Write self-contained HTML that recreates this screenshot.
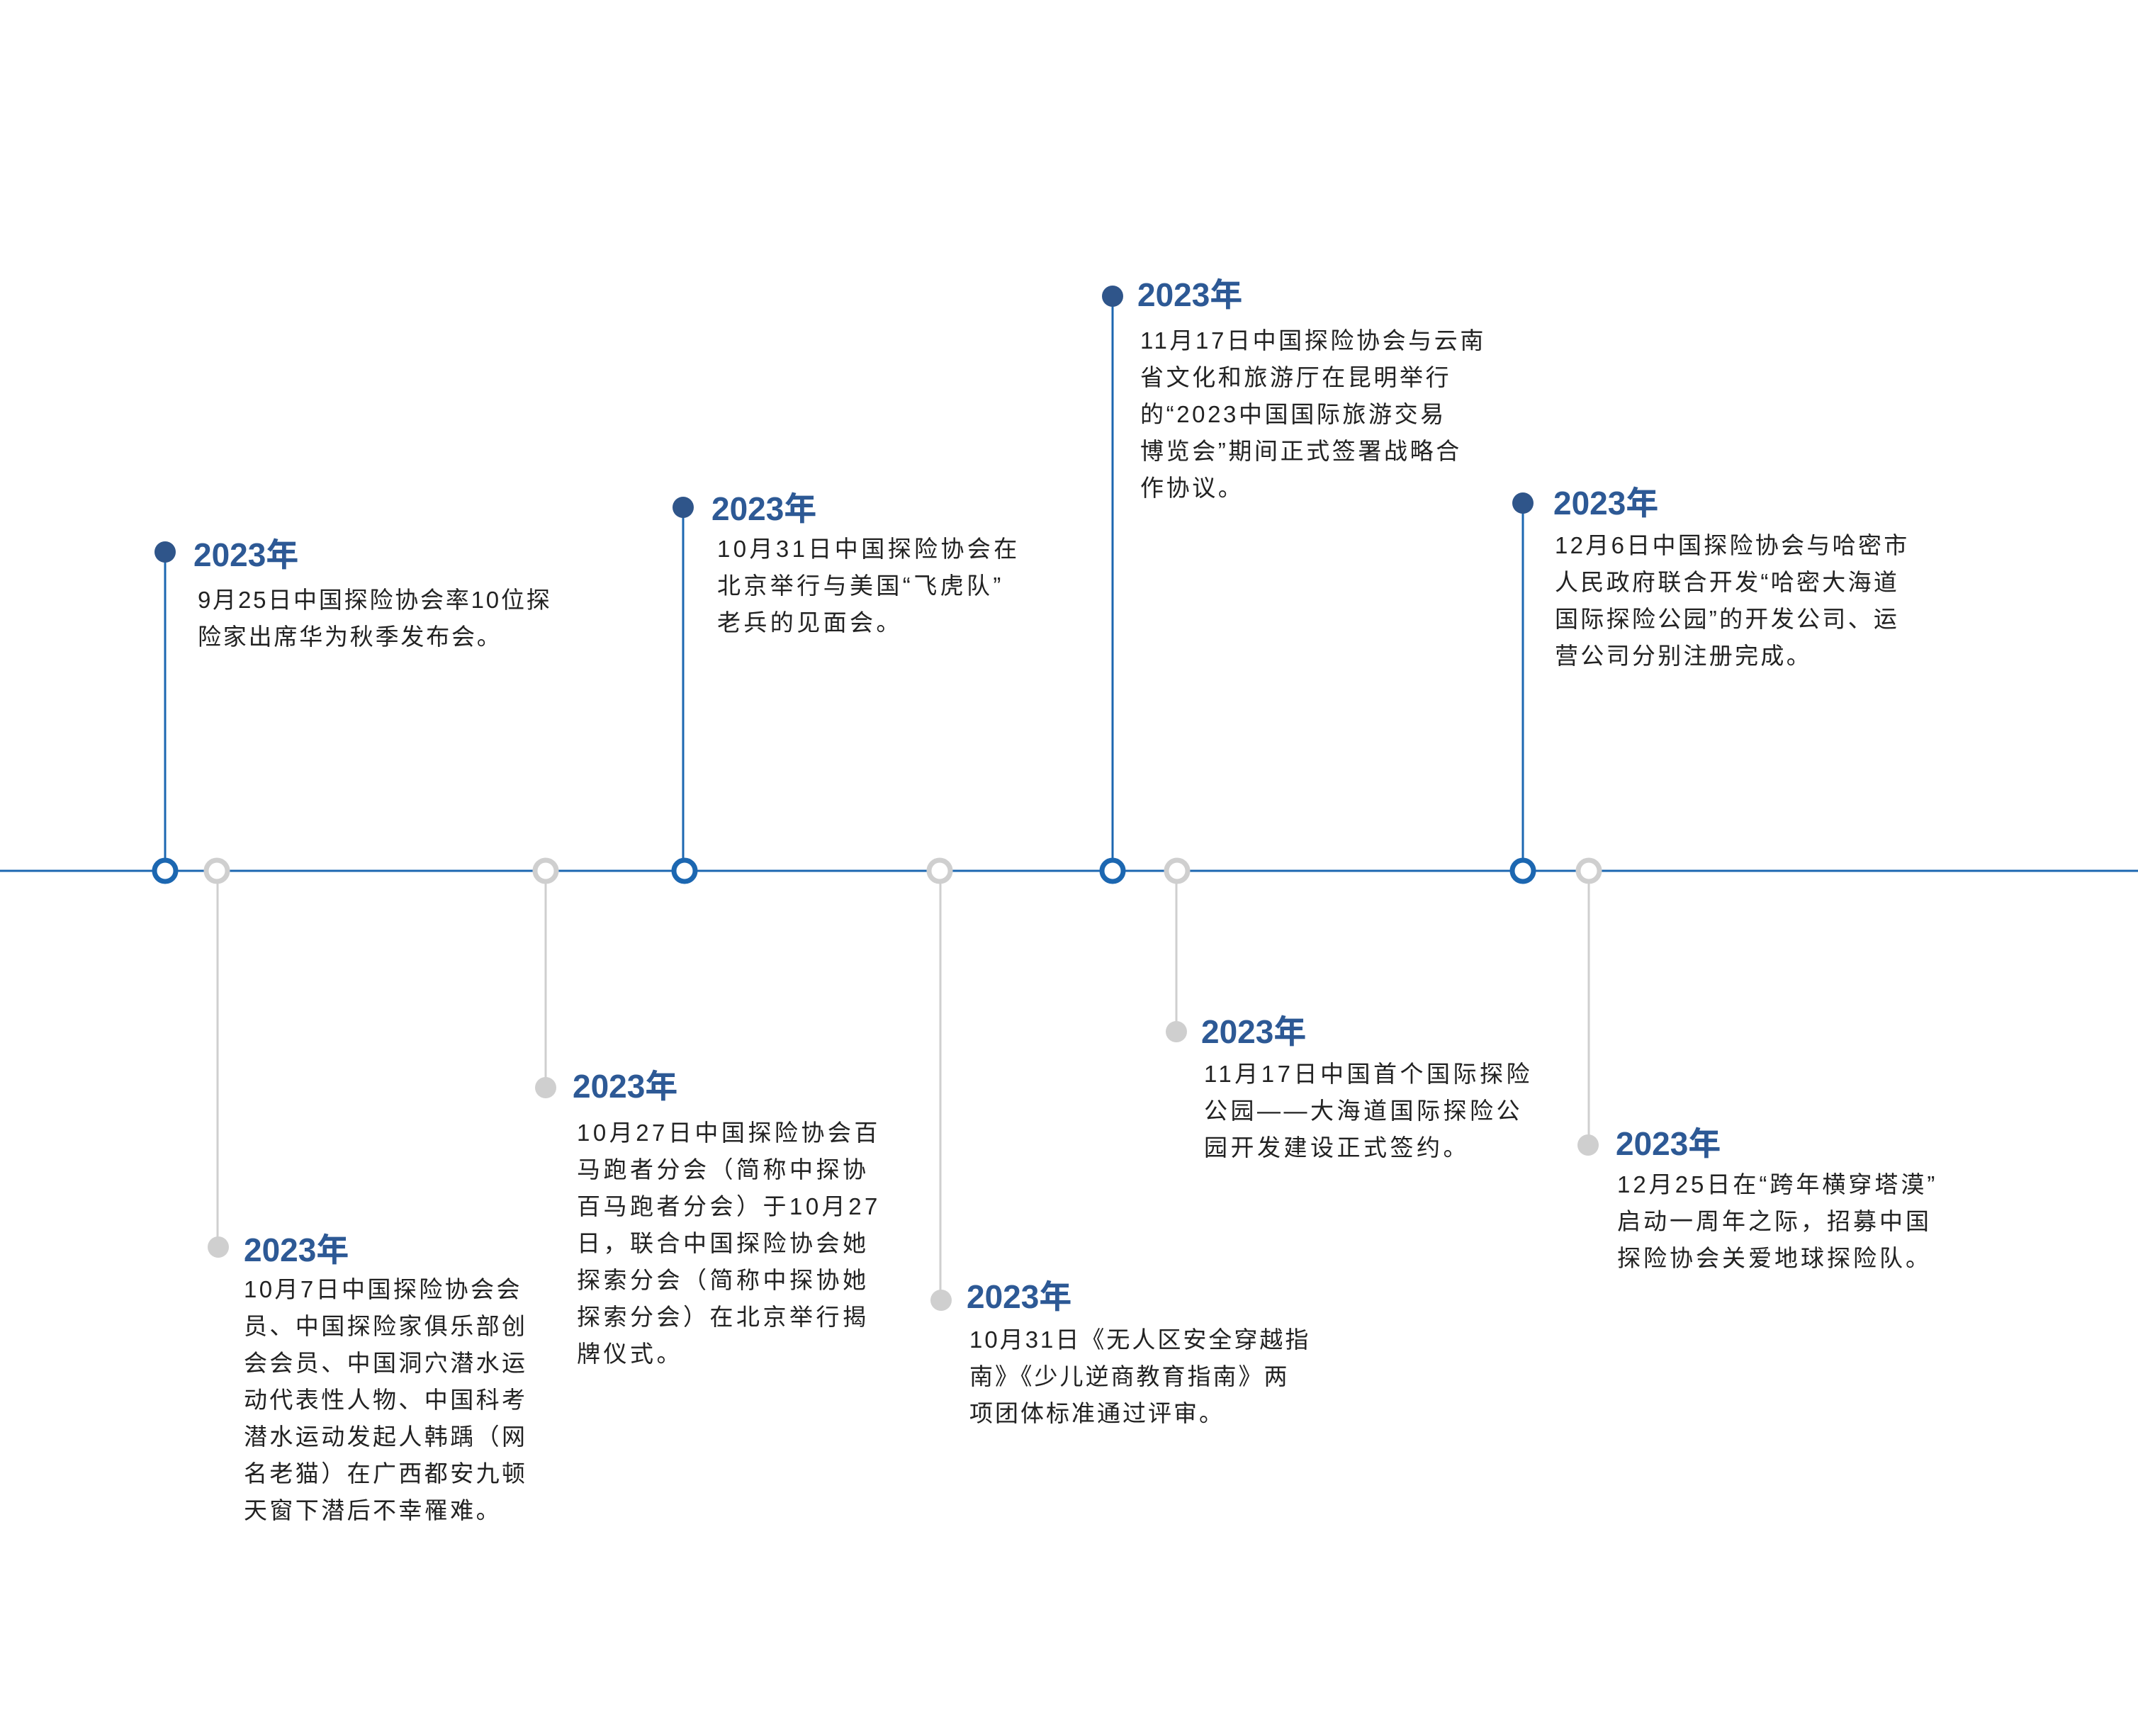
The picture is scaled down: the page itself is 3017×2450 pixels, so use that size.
<!DOCTYPE html>
<html><head><meta charset="utf-8"><style>
html,body{margin:0;padding:0;background:#fff}
#c{position:relative;width:3017px;height:2450px;overflow:hidden;background:#fff}
svg{position:absolute;left:0;top:0}
.y{position:absolute;font-family:"Liberation Sans","Noto Sans CJK SC",sans-serif;font-weight:bold;font-size:46px;line-height:52px;color:#2d5995;white-space:nowrap}
.t{position:absolute;font-family:"Liberation Sans","Noto Sans CJK SC",sans-serif;font-size:33px;line-height:52px;color:#222;white-space:nowrap;letter-spacing:4px}
</style></head><body><div id="c">
<svg width="3017" height="2450">
<line x1="0" y1="1229" x2="3017" y2="1229" stroke="#1c67b1" stroke-width="3"/>
<g stroke="#1c67b1" stroke-width="3">
<line x1="233" y1="779" x2="233" y2="1229"/>
<line x1="964" y1="716" x2="964" y2="1229"/>
<line x1="1570" y1="418" x2="1570" y2="1229"/>
<line x1="2149" y1="710" x2="2149" y2="1229"/>
</g>
<g stroke="#cfcfcf" stroke-width="3">
<line x1="307" y1="1229" x2="307" y2="1760"/>
<line x1="770" y1="1229" x2="770" y2="1535"/>
<line x1="1327" y1="1229" x2="1327" y2="1835"/>
<line x1="1660" y1="1229" x2="1660" y2="1456"/>
<line x1="2242" y1="1229" x2="2242" y2="1616"/>
</g>
<g fill="#2f558a">
<circle cx="233" cy="779" r="15"/><circle cx="964" cy="716" r="15"/>
<circle cx="1570" cy="418" r="15"/><circle cx="2149" cy="710" r="15"/>
</g>
<g fill="#cfcfcf">
<circle cx="308" cy="1760" r="15"/><circle cx="770" cy="1535" r="15"/>
<circle cx="1328" cy="1835" r="15"/><circle cx="1660" cy="1456" r="15"/>
<circle cx="2241" cy="1616" r="15"/>
</g>
<g fill="#fff" stroke="#1c67b1" stroke-width="7">
<circle cx="233" cy="1229" r="15"/><circle cx="966" cy="1229" r="15"/>
<circle cx="1570" cy="1229" r="15"/><circle cx="2149" cy="1229" r="15"/>
</g>
<g fill="#fff" stroke="#cfcfcf" stroke-width="7">
<circle cx="306" cy="1229" r="15"/><circle cx="770" cy="1229" r="15"/>
<circle cx="1326" cy="1229" r="15"/><circle cx="1661" cy="1229" r="15"/>
<circle cx="2242" cy="1229" r="15"/>
</g>
</svg>

<div class="y" style="left:273px;top:757px">2023年</div>
<div class="t" style="left:279px;top:821px;letter-spacing:2.8px">9月25日中国探险协会率10位探<br>险家出席华为秋季发布会。</div>

<div class="y" style="left:1004px;top:692px">2023年</div>
<div class="t" style="left:1012px;top:749px;letter-spacing:4.4px">10月31日中国探险协会在<br>北京举行与美国“飞虎队”<br>老兵的见面会。</div>

<div class="y" style="left:1605px;top:390px">2023年</div>
<div class="t" style="left:1609px;top:455px;letter-spacing:3.6px">11月17日中国探险协会与云南<br>省文化和旅游厅在昆明举行<br>的“2023中国国际旅游交易<br>博览会”期间正式签署战略合<br>作协议。</div>

<div class="y" style="left:2192px;top:684px">2023年</div>
<div class="t" style="left:2194px;top:744px;letter-spacing:3.3px">12月6日中国探险协会与哈密市<br>人民政府联合开发“哈密大海道<br>国际探险公园”的开发公司、运<br>营公司分别注册完成。</div>

<div class="y" style="left:344px;top:1738px">2023年</div>
<div class="t" style="left:344px;top:1794px;letter-spacing:3.4px">10月7日中国探险协会会<br>员、中国探险家俱乐部创<br>会会员、中国洞穴潜水运<br>动代表性人物、中国科考<br>潜水运动发起人韩踽（网<br>名老猫）在广西都安九顿<br>天窗下潜后不幸罹难。</div>

<div class="y" style="left:808px;top:1507px">2023年</div>
<div class="t" style="left:814px;top:1573px;letter-spacing:4.5px">10月27日中国探险协会百<br>马跑者分会（简称中探协<br>百马跑者分会）于10月27<br>日，联合中国探险协会她<br>探索分会（简称中探协她<br>探索分会）在北京举行揭<br>牌仪式。</div>

<div class="y" style="left:1364px;top:1804px">2023年</div>
<div class="t" style="left:1368px;top:1865px;letter-spacing:3px">10月31日《无人区安全穿越指<br>南》《少儿逆商教育指南》两<br>项团体标准通过评审。</div>

<div class="y" style="left:1695px;top:1430px">2023年</div>
<div class="t" style="left:1699px;top:1490px;letter-spacing:4.5px">11月17日中国首个国际探险<br>公园——大海道国际探险公<br>园开发建设正式签约。</div>

<div class="y" style="left:2280px;top:1588px">2023年</div>
<div class="t" style="left:2282px;top:1646px">12月25日在“跨年横穿塔漠”<br>启动一周年之际，招募中国<br>探险协会关爱地球探险队。</div>
</div></body></html>
